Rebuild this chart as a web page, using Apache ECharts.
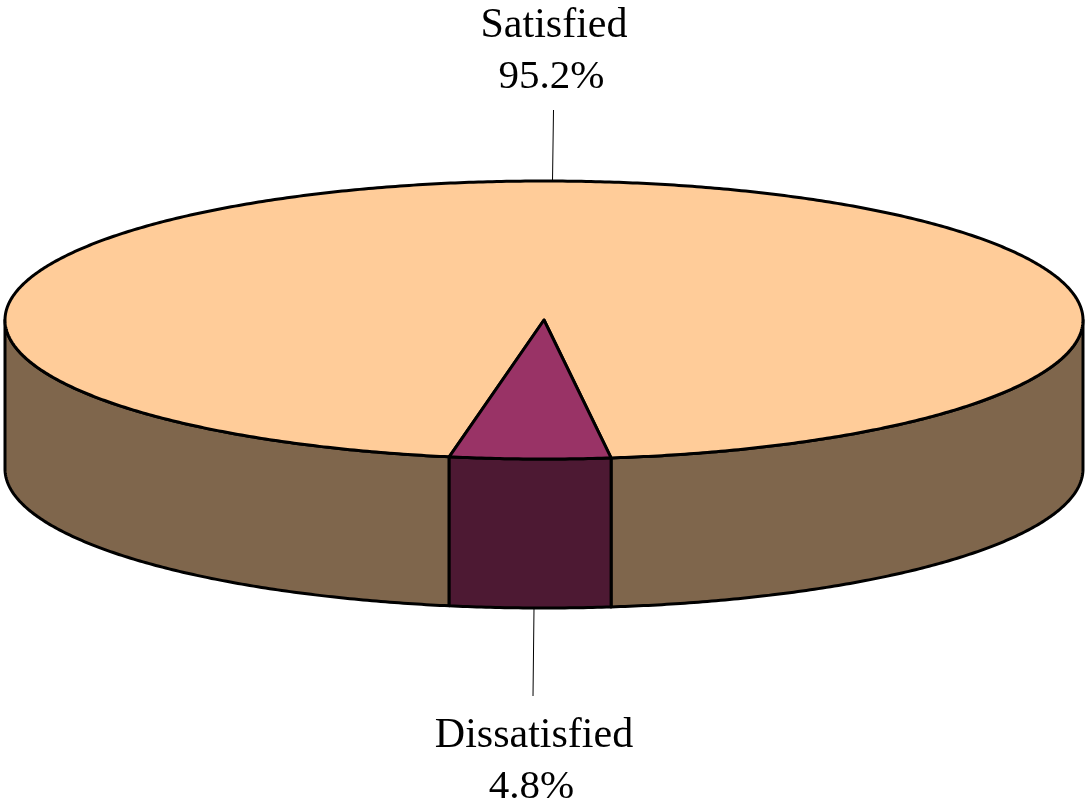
<!DOCTYPE html>
<html>
<head>
<meta charset="utf-8">
<style>html,body{margin:0;padding:0;background:#fff}#c{width:1088px;height:805px}</style>
<script src="https://cdn.jsdelivr.net/npm/echarts@6/dist/echarts.min.js"></script>
</head>
<body>
<div id="c"></div>
<script>
// Data
const categories = ['Satisfied', 'Dissatisfied'];
const shares = [95.2, 4.8];
// Styles
const topColors = ['#FFCC99', '#993366'];
const sideColors = ['#7F664C', '#4D1933'];
// Layout of the tilted pie
const cx = 544, cy = 320, rx = 539, ry = 139, depth = 149;
const startDeg = 82.85;         // where the last slice begins, clockwise on screen
const labelAnchors = [
  {x: 554, px: 551.5, y1: 5, y2: 57, from: [553.5, 110], to: [552.5, 181]},
  {x: 534, px: 531.5, y1: 715, y2: 767, from: [534, 608], to: [533, 696]}
];
const nameFont = '42px "Liberation Serif", "Times New Roman", serif';
const pctFont = '41px "Liberation Serif", "Times New Roman", serif';

const total = shares.reduce((a, b) => a + b, 0);
// each slice's angular range, in degrees, with the last slice beginning at startDeg
const ranges = [];
(function () {
  let a = startDeg + shares[1] / total * 360;
  ranges[0] = [a, a + shares[0] / total * 360];
  ranges[1] = [startDeg, startDeg + shares[1] / total * 360];
})();

function pt(deg, dy) {
  const t = deg * Math.PI / 180;
  return [cx + rx * Math.cos(t), cy + ry * Math.sin(t) + (dy || 0)];
}
function arc(a, b, dy) {
  const n = Math.max(2, Math.ceil(Math.abs(b - a) * 2));
  const out = [];
  for (let i = 0; i <= n; i++) out.push(pt(a + (b - a) * i / n, dy));
  return out;
}
// parts of [a,b] on the front (screen-lower) half of the ellipse
function frontParts(a, b) {
  const parts = [];
  for (let k = 0; k < 2; k++) {
    const lo = Math.max(a, k * 360), hi = Math.min(b, k * 360 + 180);
    if (hi > lo) parts.push([lo, hi]);
  }
  return parts;
}
const stroke = {stroke: '#000', lineWidth: 3, lineJoin: 'round'};

function renderItem(params, api) {
  const i = params.dataIndex;
  const r = ranges[i];
  const children = [];
  frontParts(r[0], r[1]).forEach(p => {
    const pts = arc(p[0], p[1], 0).concat(arc(p[1], p[0], depth));
    children.push({type: 'polygon', shape: {points: pts},
      style: Object.assign({fill: sideColors[i]}, stroke)});
  });
  const sector = [[cx, cy]].concat(arc(r[0], r[1], 0));
  children.push({type: 'polygon', shape: {points: sector},
    style: Object.assign({fill: topColors[i]}, stroke)});
  const a = labelAnchors[i];
  children.push({type: 'line',
    shape: {x1: a.from[0], y1: a.from[1], x2: a.to[0], y2: a.to[1]},
    style: {stroke: '#000', lineWidth: 1}});
  const name = categories[i];
  const pct = api.value(0).toFixed(1) + '%';
  [[name, a.x, a.y1, nameFont], [pct, a.px, a.y2, pctFont]].forEach(t => {
    children.push({type: 'text', style: {
      text: t[0], x: t[1], y: t[2], font: t[3], fill: '#000',
      textAlign: 'center', textVerticalAlign: 'top'
    }});
  });
  return {type: 'group', children};
}

const chart = echarts.init(document.getElementById('c'), null, {renderer: 'canvas'});
chart.setOption({
  animation: false,
  backgroundColor: '#fff',
  series: [{
    type: 'custom',
    coordinateSystem: 'none',
    renderItem,
    silent: true,
    data: shares.map((v, i) => ({name: categories[i], value: [v]}))
  }]
});
</script>
</body>
</html>
